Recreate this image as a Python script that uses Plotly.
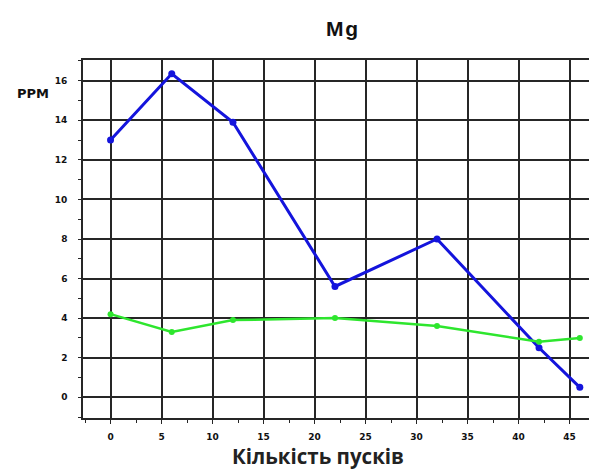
import plotly.graph_objects as go

# Mg concentration (PPM) versus number of starts
starts = [0, 6, 12, 22, 32, 42, 46]
mg_series_1 = [13.0, 16.35, 13.9, 5.6, 8.0, 2.5, 0.5]
mg_series_2 = [4.2, 3.3, 3.9, 4.0, 3.6, 2.8, 3.0]

x_ticks = [0, 5, 10, 15, 20, 25, 30, 35, 40, 45]
y_ticks = [0, 2, 4, 6, 8, 10, 12, 14, 16]

tick_font = dict(family="DejaVu Sans", size=9, color="#111", weight="bold")
grid_col = "#262626"

fig = go.Figure()
fig.add_trace(go.Scatter(
    x=starts, y=mg_series_1, mode="lines+markers",
    line=dict(color="#1414dc", width=3),
    marker=dict(color="#1414dc", size=7),
    showlegend=False,
))
fig.add_trace(go.Scatter(
    x=starts, y=mg_series_2, mode="lines+markers",
    line=dict(color="#2ee62e", width=2.5),
    marker=dict(color="#2ee62e", size=6),
    showlegend=False,
))

fig.update_layout(
    width=589, height=469,
    margin=dict(l=83, r=0, t=60, b=51),
    paper_bgcolor="white", plot_bgcolor="white",
    xaxis=dict(
        range=[-2.7, 46.9], tickvals=x_ticks,
        showgrid=True, gridcolor=grid_col, gridwidth=1.6,
        zeroline=False,
        showline=True, linecolor=grid_col, linewidth=1.6, mirror=True,
        ticks="outside", ticklen=4, tickcolor=grid_col,
        minor=dict(dtick=2.5, tick0=0, ticks="outside", ticklen=3,
                   tickcolor=grid_col, showgrid=False),
        tickfont=tick_font, ticklabelstandoff=5,
    ),
    yaxis=dict(
        range=[-1.05, 17.05], tickvals=y_ticks,
        showgrid=True, gridcolor=grid_col, gridwidth=1.6,
        zeroline=False,
        showline=True, linecolor=grid_col, linewidth=1.6,
        ticks="outside", ticklen=3, tickcolor=grid_col,
        minor=dict(dtick=1, tick0=0, ticks="outside", ticklen=3,
                   tickcolor=grid_col, showgrid=False),
        tickfont=tick_font, ticklabelstandoff=9,
    ),
    annotations=[
        dict(text="M\u200ag", x=342, y=28,
             font=dict(family="Liberation Sans", size=21, color="#111", weight="bold")),
        dict(text="PPM", x=33, y=94,
             font=dict(family="DejaVu Sans", size=13, color="#111", weight="bold")),
        dict(text="Кількість пусків", x=318, y=456,
             font=dict(family="Open Sans", size=20.5, color="#222", weight="bold")),
    ],
)

# annotations positioned in pixel space of the page
W, H = 589, 469
pl, pr, pt, pb = 83, 0, 60, 51
for a in fig.layout.annotations:
    px, py = a.x, a.y
    a.xref = "paper"
    a.yref = "paper"
    a.showarrow = False
    a.x = (px - pl) / (W - pl - pr)
    a.y = 1 - (py - pt) / (H - pt - pb)
    a.xanchor = "center"
    a.yanchor = "middle"

fig.write_html("out.html")
